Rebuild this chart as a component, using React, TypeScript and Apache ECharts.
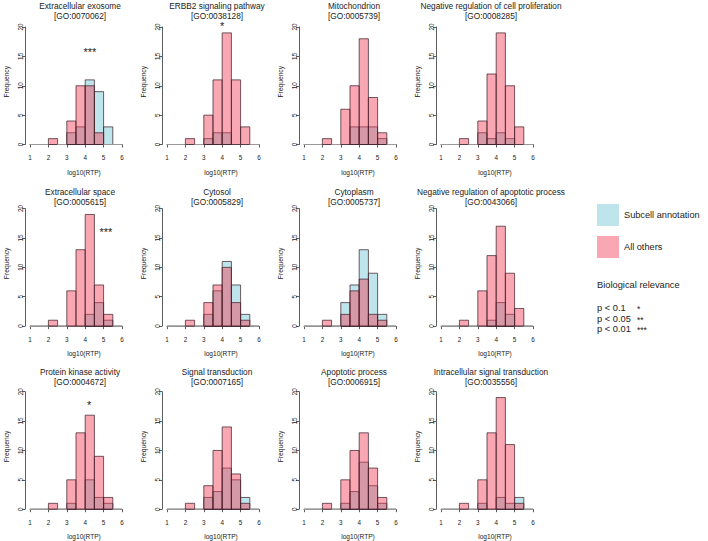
import React, { useEffect, useRef } from "react";
import * as echarts from "echarts";

const FONT = '"Liberation Sans", Arial, Helvetica, sans-serif';

// histogram bins: 1.0 to 6.0 in steps of 0.5
const BIN_STARTS = [1, 1.5, 2, 2.5, 3, 3.5, 4, 4.5, 5, 5.5];
const BIN_WIDTH = 0.5;

const TITLES = [
  "Extracellular exosome",
  "ERBB2 signaling pathway",
  "Mitochondrion",
  "Negative regulation of cell proliferation",
  "Extracellular space",
  "Cytosol",
  "Cytoplasm",
  "Negative regulation of apoptotic process",
  "Protein kinase activity",
  "Signal transduction",
  "Apoptotic process",
  "Intracellular signal transduction",
];
const GO_IDS = [
  "[GO:0070062]",
  "[GO:0038128]",
  "[GO:0005739]",
  "[GO:0008285]",
  "[GO:0005615]",
  "[GO:0005829]",
  "[GO:0005737]",
  "[GO:0043066]",
  "[GO:0004672]",
  "[GO:0007165]",
  "[GO:0006915]",
  "[GO:0035556]",
];

// "All others" counts per bin
const OTHERS = [
  [0, 0, 1, 0, 4, 10, 10, 2, 0, 0],
  [0, 0, 1, 0, 5, 11, 19, 11, 3, 0],
  [0, 0, 1, 0, 6, 10, 18, 8, 2, 0],
  [0, 0, 1, 0, 4, 12, 19, 10, 3, 0],
  [0, 0, 1, 0, 6, 13, 19, 7, 2, 0],
  [0, 0, 1, 0, 4, 7, 10, 4, 1, 0],
  [0, 0, 1, 0, 2, 6, 8, 2, 1, 0],
  [0, 0, 1, 0, 6, 12, 17, 9, 3, 0],
  [0, 0, 1, 0, 5, 13, 16, 9, 2, 0],
  [0, 0, 1, 0, 4, 10, 14, 6, 1, 0],
  [0, 0, 1, 0, 5, 10, 13, 7, 2, 0],
  [0, 0, 1, 0, 5, 13, 19, 11, 1, 0],
];
// "Subcell annotation" counts per bin
const SUBCELL = [
  [0, 0, 0, 0, 2, 3, 11, 9, 3, 0],
  [0, 0, 0, 0, 1, 2, 2, 0, 0, 0],
  [0, 0, 0, 0, 0, 3, 3, 3, 1, 0],
  [0, 0, 0, 0, 2, 1, 2, 1, 0, 0],
  [0, 0, 0, 0, 0, 0, 2, 4, 1, 0],
  [0, 0, 0, 0, 2, 6, 11, 7, 2, 0],
  [0, 0, 0, 0, 4, 7, 13, 9, 2, 0],
  [0, 0, 0, 0, 0, 1, 4, 2, 0, 0],
  [0, 0, 0, 0, 1, 0, 5, 2, 1, 0],
  [0, 0, 0, 0, 2, 3, 7, 5, 2, 0],
  [0, 0, 0, 0, 1, 3, 8, 4, 1, 0],
  [0, 0, 0, 0, 1, 0, 2, 1, 2, 0],
];

// significance marks: panel index, x, y (data units), text
const STAR_PANEL = [0, 1, 4, 8];
const STAR_X = [4.25, 4.0, 5.12, 4.22];
const STAR_Y = [15.7, 20.2, 16.0, 17.7];
const STAR_TEXT = ["***", "*", "***", "*"];

const X_MIN = 1;
const X_MAX = 6;
const Y_MIN = 0;
const Y_MAX = 20;

const LEGEND_NAMES = ["Subcell annotation", "All others"];
const RELEVANCE_TITLE = "Biological relevance";
const RELEVANCE_P = ["p < 0.1", "p < 0.05", "p < 0.01"];
const RELEVANCE_STARS = ["*", "**", "***"];

const BLUE = "rgba(100, 190, 210, 0.42)";
const PINK = "rgba(242, 60, 85, 0.45)";
const BORDER = "rgba(60, 30, 40, 0.9)";
const ZERO_LINE = "#9a9a9a";
const AXIS_COLOR = "#333";
const TEXT_COLOR = "#222";

// layout
const COL_LEFT = [30, 167, 304, 441];
const ROW_TOP = [27, 208.6, 391.7];
const TITLE_Y = [11, 197, 377];
const PLOT_W = 92;
const PLOT_H = 117.5;

export default function App() {
  const ref = useRef<HTMLDivElement>(null);

  useEffect(() => {
    document.body.style.margin = "0";
    if (!ref.current) return;
    const chart = echarts.init(ref.current, undefined, { renderer: "svg" });

    const grids: any[] = [];
    const xAxes: any[] = [];
    const yAxes: any[] = [];
    const series: any[] = [];
    const graphics: any[] = [];

    const barRender = (fill: string) => (params: any, api: any) => {
      const x0 = api.value(0);
      const v = api.value(1);
      const p0 = api.coord([x0, v]);
      const p1 = api.coord([x0 + BIN_WIDTH, 0]);
      return {
        type: "rect",
        shape: { x: p0[0], y: p0[1], width: p1[0] - p0[0], height: p1[1] - p0[1] },
        style: {
          fill: v > 0 ? fill : "none",
          stroke: v > 0 ? BORDER : ZERO_LINE,
          lineWidth: 0.8,
        },
      };
    };

    for (let i = 0; i < 12; i++) {
      const c = i % 4;
      const r = Math.floor(i / 4);
      const left = COL_LEFT[c];
      const top = ROW_TOP[r];
      grids.push({ left, top, width: PLOT_W, height: PLOT_H, containLabel: false });
      xAxes.push({
        gridIndex: i,
        type: "value",
        min: X_MIN,
        max: X_MAX,
        interval: 1,
        offset: 8,
        axisLine: { show: true, lineStyle: { color: AXIS_COLOR, width: 0.8 } },
        axisTick: { show: true, length: 3, lineStyle: { color: AXIS_COLOR, width: 0.8 } },
        axisLabel: { fontSize: 6.3, margin: 2, color: TEXT_COLOR, fontFamily: FONT },
        splitLine: { show: false },
      });
      yAxes.push({
        gridIndex: i,
        type: "value",
        min: Y_MIN,
        max: Y_MAX,
        interval: 5,
        offset: 5,
        axisLine: { show: true, lineStyle: { color: AXIS_COLOR, width: 0.8 } },
        axisTick: { show: true, length: 3, lineStyle: { color: AXIS_COLOR, width: 0.8 } },
        axisLabel: { fontSize: 6.3, margin: 2, rotate: 90, color: TEXT_COLOR, fontFamily: FONT },
        splitLine: { show: false },
      });
      series.push({
        type: "custom",
        name: LEGEND_NAMES[0],
        xAxisIndex: i,
        yAxisIndex: i,
        itemStyle: { color: BLUE },
        renderItem: barRender(BLUE),
        data: BIN_STARTS.map((b, k) => [b, SUBCELL[i][k]]),
        silent: true,
      });
      series.push({
        type: "custom",
        name: LEGEND_NAMES[1],
        xAxisIndex: i,
        yAxisIndex: i,
        itemStyle: { color: PINK },
        renderItem: barRender(PINK),
        data: BIN_STARTS.map((b, k) => [b, OTHERS[i][k]]),
        silent: true,
      });
      const cx = left + PLOT_W / 2;
      graphics.push({
        type: "text",
        x: cx + 4,
        y: TITLE_Y[r],
        style: {
          text: TITLES[i] + "\n" + GO_IDS[i],
          fontSize: 8.3,
          lineHeight: 10,
          fontFamily: FONT,
          fill: TEXT_COLOR,
          align: "center",
          verticalAlign: "middle",
        },
      });
      graphics.push({
        type: "text",
        x: cx + 8,
        y: top + PLOT_H + 27.5,
        style: {
          text: "log10(RTP)",
          fontSize: 6.6,
          fontFamily: FONT,
          fill: TEXT_COLOR,
          align: "center",
          verticalAlign: "middle",
        },
      });
      graphics.push({
        type: "text",
        x: left - 24,
        y: top + PLOT_H / 2 - 4,
        rotation: Math.PI / 2,
        style: {
          text: "Frequency",
          fontSize: 6.7,
          fontFamily: FONT,
          fill: TEXT_COLOR,
          align: "center",
          verticalAlign: "middle",
        },
      });
    }

    STAR_PANEL.forEach((p, k) => {
      series.push({
        type: "custom",
        xAxisIndex: p,
        yAxisIndex: p,
        silent: true,
        clip: false,
        renderItem: (params: any, api: any) => {
          const pt = api.coord([api.value(0), api.value(1)]);
          return {
            type: "text",
            x: pt[0],
            y: pt[1],
            style: {
              text: STAR_TEXT[k],
              fontSize: 11,
              fontFamily: FONT,
              fill: TEXT_COLOR,
              align: "center",
              verticalAlign: "middle",
            },
          };
        },
        data: [[STAR_X[k], STAR_Y[k]]],
      });
    });

    graphics.push({
      type: "text",
      x: 597,
      y: 285,
      style: {
        text: RELEVANCE_TITLE,
        fontSize: 9.3,
        fontFamily: FONT,
        fill: TEXT_COLOR,
        align: "left",
        verticalAlign: "middle",
      },
    });
    RELEVANCE_P.forEach((t, k) => {
      graphics.push({
        type: "text",
        x: 597,
        y: 308 + k * 10.6,
        style: { text: t, fontSize: 9.3, fontFamily: FONT, fill: TEXT_COLOR, align: "left", verticalAlign: "middle" },
      });
      graphics.push({
        type: "text",
        x: 637,
        y: 309 + k * 10.6,
        style: { text: RELEVANCE_STARS[k], fontSize: 8.5, fontFamily: FONT, fill: TEXT_COLOR, align: "left", verticalAlign: "middle" },
      });
    });

    chart.setOption({
      animation: false,
      backgroundColor: "#ffffff",
      textStyle: { fontFamily: FONT },
      grid: grids,
      xAxis: xAxes,
      yAxis: yAxes,
      series,
      legend: {
        data: LEGEND_NAMES,
        orient: "vertical",
        left: 597,
        top: 204,
        padding: 0,
        itemWidth: 22,
        itemHeight: 22,
        itemGap: 10,
        icon: "rect",
        selectedMode: false,
        itemStyle: { borderWidth: 0 },
        textStyle: { fontSize: 9.2, fontFamily: FONT, color: TEXT_COLOR },
      },
      graphic: graphics,
    });

    return () => chart.dispose();
  }, []);

  return <div ref={ref} style={{ width: 708, height: 541 }} />;
}
